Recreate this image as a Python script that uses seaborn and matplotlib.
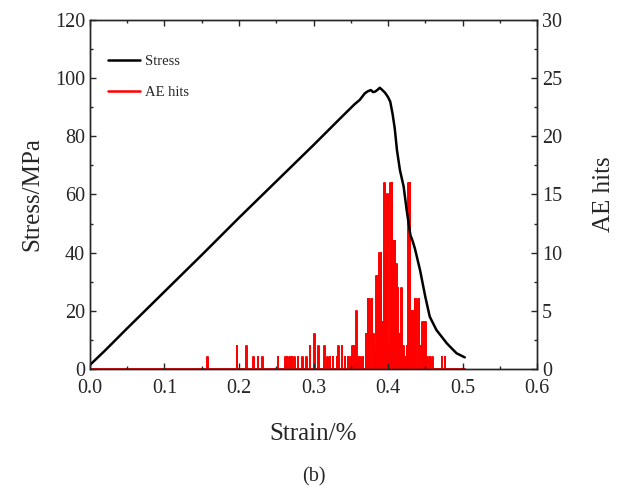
import numpy as np
import pandas as pd
import matplotlib
matplotlib.use("Agg")
import matplotlib.pyplot as plt
from matplotlib.ticker import MultipleLocator
import seaborn as sns

# Stress-strain curve
stress_strain = [0.000, 0.020, 0.050, 0.100, 0.150, 0.200, 0.250, 0.300, 0.336, 0.355,
                 0.362, 0.369, 0.373, 0.377, 0.380, 0.383, 0.386, 0.389, 0.392, 0.396,
                 0.400, 0.403, 0.406, 0.409, 0.412, 0.416, 0.421, 0.425, 0.430, 0.433,
                 0.436, 0.443, 0.450, 0.456, 0.465, 0.479, 0.492, 0.503]
stress_mpa = [1.4, 6.3, 14.0, 26.6, 39.2, 52.0, 64.5, 77.0, 86.2, 91.0,
              92.5, 94.8, 95.5, 95.9, 95.2, 95.4, 96.0, 96.7, 96.0, 95.0,
              93.5, 91.9, 87.9, 82.8, 75.3, 68.4, 62.7, 54.7, 46.1, 44.0,
              41.5, 34.0, 24.9, 18.0, 13.4, 8.8, 5.4, 4.0]

# AE hit events: strain position and hit count
ae_strain = [0.157, 0.197, 0.210, 0.219, 0.225, 0.231, 0.252, 0.262, 0.265, 0.268,
             0.271, 0.274, 0.279, 0.285, 0.290, 0.295, 0.301, 0.306, 0.314, 0.318,
             0.322, 0.326, 0.331, 0.333, 0.338, 0.342, 0.346, 0.349, 0.352, 0.355,
             0.357, 0.360, 0.363, 0.366, 0.370, 0.373, 0.375, 0.378, 0.380, 0.382,
             0.384, 0.386, 0.388, 0.390, 0.392, 0.395, 0.397, 0.399, 0.401, 0.403,
             0.405, 0.407, 0.409, 0.411, 0.413, 0.415, 0.418, 0.420, 0.423, 0.425,
             0.427, 0.429, 0.432, 0.434, 0.436, 0.438, 0.441, 0.443, 0.446, 0.448,
             0.450, 0.453, 0.456, 0.459, 0.472, 0.476]
ae_hits = [1, 2, 2, 1, 1, 1, 1, 1, 1, 1,
           1, 1, 1, 1, 1, 2, 3, 2, 2, 1,
           1, 1, 1, 2, 2, 1, 1, 1, 2, 2,
           5, 1, 1, 1, 3, 6, 6, 6, 3, 2,
           8, 8, 10, 10, 4, 16, 10, 15, 2, 16,
           16, 11, 11, 9, 7, 3, 7, 2, 1, 2,
           16, 16, 5, 5, 6, 6, 6, 2, 4, 4,
           4, 1, 1, 1, 1, 1]
ae_start, ae_end = 0.0, 0.503

# build spike path (baseline -> top -> baseline) for each event
xs, ys = [ae_start], [0]
w = 0.0008
for s, h in zip(ae_strain, ae_hits):
    xs += [s, s, s + w, s + w]
    ys += [0, h, h, 0]
xs.append(ae_end)
ys.append(0)
ae_df = pd.DataFrame({"strain": xs, "hits": ys})
stress_df = pd.DataFrame({"strain": stress_strain, "stress": stress_mpa})

sns.set_style("ticks")
plt.rcParams["font.family"] = ["Liberation Serif", "DejaVu Serif"]

fig = plt.figure(figsize=(6.27, 4.91), dpi=100)
ax = fig.add_axes([0.1435, 0.2485, 0.713, 0.7108])
ax2 = ax.twinx()

sns.lineplot(data=ae_df, x="strain", y="hits", sort=False, estimator=None,
             color="red", linewidth=1.4, ax=ax2)
sns.lineplot(data=stress_df, x="strain", y="stress", sort=False, estimator=None,
             color="black", linewidth=1.8, ax=ax)
ax.set_zorder(ax2.get_zorder() + 1)
ax.patch.set_visible(False)

ax.set_xlim(0, 0.6)
ax.set_ylim(0, 120)
ax2.set_ylim(0, 30)
ax.xaxis.set_major_locator(MultipleLocator(0.1))
ax.xaxis.set_minor_locator(MultipleLocator(0.05))
ax.yaxis.set_major_locator(MultipleLocator(20))
ax.yaxis.set_minor_locator(MultipleLocator(10))
ax2.yaxis.set_major_locator(MultipleLocator(5))
ax2.yaxis.set_minor_locator(MultipleLocator(2.5))
ax.xaxis.set_major_formatter(matplotlib.ticker.FormatStrFormatter("%.1f"))

ax.tick_params(axis="x", which="both", direction="in", top=True, labelsize=14.5, pad=7)
ax.tick_params(axis="y", which="both", direction="in", labelsize=14.5)
ax2.tick_params(axis="y", which="both", direction="in", labelsize=14.5)
for a in (ax, ax2):
    a.tick_params(which="major", length=4, width=1)
    a.tick_params(which="minor", length=2.5, width=1)
    for sp in a.spines.values():
        sp.set_linewidth(1.0)
        sp.set_visible(True)

ax.set_xlabel("Strain/%", fontsize=18, labelpad=18)
ax.set_ylabel("Stress/MPa", fontsize=18, labelpad=8)
ax2.set_ylabel("AE hits", fontsize=18, labelpad=22)

handles = [plt.Line2D([], [], color="black", lw=1.8),
           plt.Line2D([], [], color="red", lw=1.8)]
ax.legend(handles, ["Stress", "AE hits"], loc="upper left", bbox_to_anchor=(0.01, 0.937),
          frameon=False, fontsize=10.5, handlelength=2.2, handletextpad=0.4,
          labelspacing=1.2)

fig.text(0.5, 0.0285, "(b)", ha="center", va="center", fontsize=14.5)

fig.savefig("out.png", dpi=100)
